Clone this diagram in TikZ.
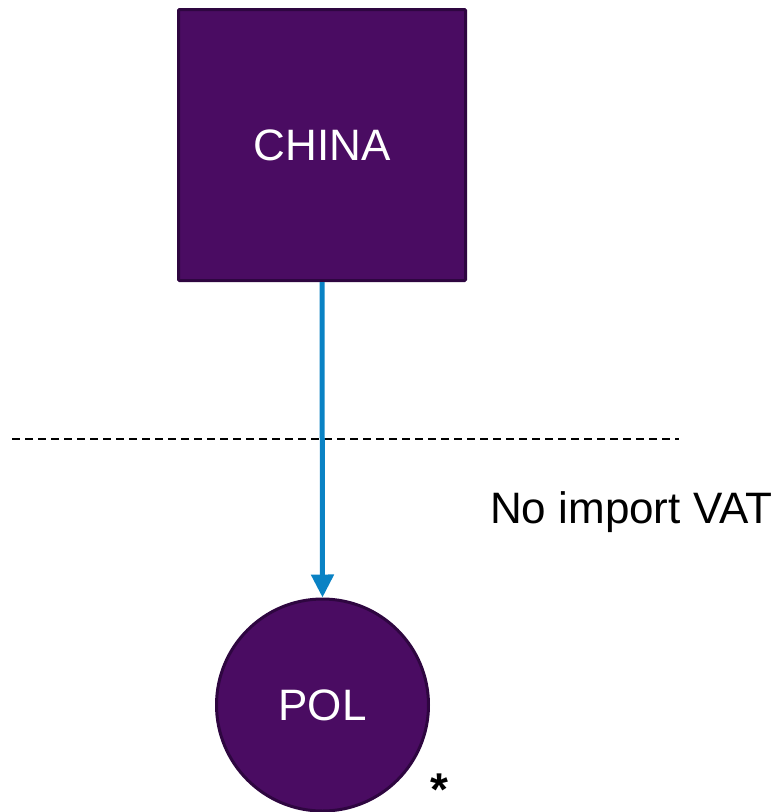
\documentclass[tikz,border=0pt]{standalone}
\usepackage{fontspec}
\setmainfont{Liberation Sans}
\usetikzlibrary{arrows.meta}
\definecolor{purplefill}{HTML}{4A0C62}
\definecolor{purpleedge}{HTML}{2E0640}
\definecolor{arrowblue}{HTML}{0A82C4}
\begin{document}
\begin{tikzpicture}[x=1pt,y=-1pt,
  bigtext/.style={font=\fontsize{44}{50}\selectfont},
  purplebox/.style={draw=purpleedge,fill=purplefill,line width=3pt,text=white,bigtext,inner sep=0pt},
  flow/.style={draw=arrowblue,line width=5pt,-{Triangle[width=22pt,length=23pt]}},
  divider/.style={draw=black,line width=1.3pt,dash pattern=on 8pt off 5pt}]
\useasboundingbox (0,0) rectangle (783,812);
\node[purplebox,rectangle,rounded corners=1pt,minimum width=287pt,minimum height=271pt] (china) at (322,145) {CHINA};
\node[purplebox,circle,minimum size=212pt] (pol) at (322.5,705) {POL};
\coordinate (dl) at (12,439);
\coordinate (dr) at (679,439);
\path[divider] (dl) -- (dr);
\path[flow] (china.south) -- (pol.north);
\node[bigtext,anchor=base west,inner sep=0pt] (vat) at (490,523) {No import VAT};
\node[font=\fontsize{46}{50}\selectfont\bfseries,anchor=base west,inner sep=0pt] (star) at (430,805) {*};
\end{tikzpicture}
\end{document}
